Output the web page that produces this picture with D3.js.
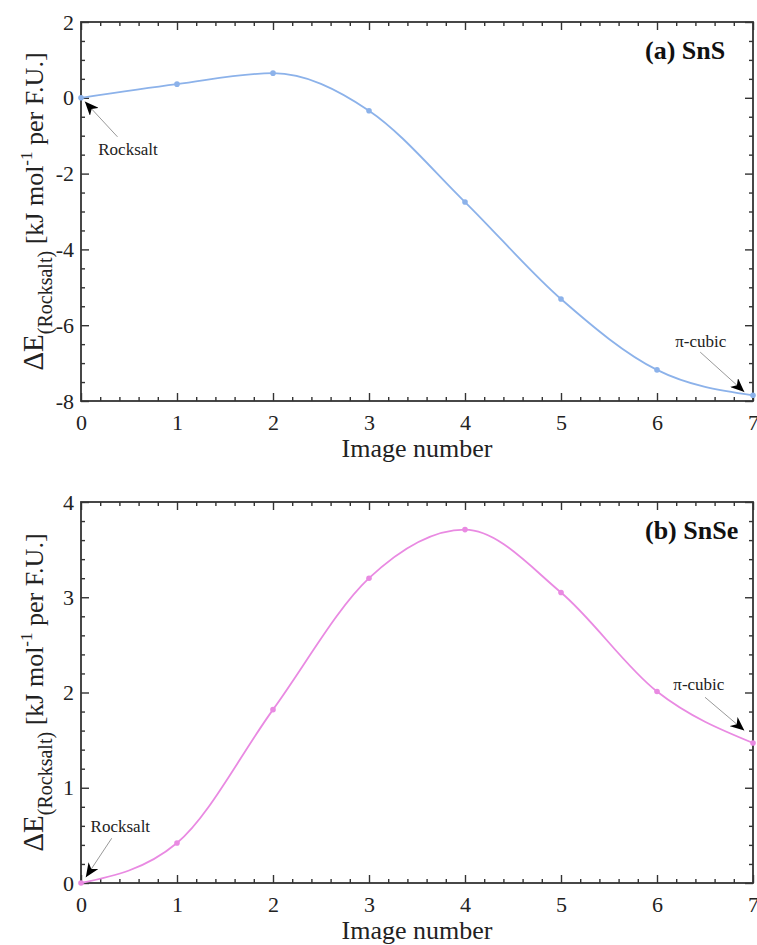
<!DOCTYPE html>
<html>
<head>
<meta charset="utf-8">
<script src="https://cdn.jsdelivr.net/npm/d3@7"></script>
<style>
  body { margin: 0; background: #fff; }
  svg, svg text { font-family: "Liberation Serif", "Times New Roman", serif; }
  .axis text { font-size: 22px; fill: #222; font-family: "Liberation Serif", "Times New Roman", serif; }
  .axis line { stroke: #333; stroke-width: 1.4; }
  .axis .domain { display: none; }
  .frame { fill: none; stroke: #333; stroke-width: 1.8; }
  .axis-title { font-size: 26px; fill: #222; }
  .panel-label { font-size: 26px; font-weight: bold; fill: #111; font-family: "Liberation Serif", "Times New Roman", serif; }
  .note { font-size: 17px; fill: #222; }
  .note-arrow { stroke: #999; stroke-width: 1; }
</style>
</head>
<body>
<svg id="chart" width="757" height="945"></svg>
<script>
// Image index along the transition path
const images = [0, 1, 2, 3, 4, 5, 6, 7];

// Relative energies (kJ/mol per F.U.)
const snsEnergy = [0, 0.36, 0.65, -0.34, -2.75, -5.31, -7.18, -7.85];
const snseEnergy = [0, 0.42, 1.82, 3.20, 3.71, 3.05, 2.01, 1.47];

// Tick labels
const xTicks = [0, 1, 2, 3, 4, 5, 6, 7];
const snsYTicks = [-8, -6, -4, -2, 0, 2];
const snseYTicks = [0, 1, 2, 3, 4];

class PathChart {

  constructor(_config, _data) {
    this.config = {
      parent: _config.parent,
      left: _config.left,
      top: _config.top,
      width: 672,
      height: _config.height,
      yDomain: _config.yDomain,
      yTicks: _config.yTicks,
      yMinorStep: _config.yMinorStep,
      color: _config.color,
      label: _config.label,
      notes: _config.notes
    };
    this.data = _data;
    this.initVis();
  }

  initVis() {
    let vis = this;
    const c = vis.config;
    const plain = d => String(d);

    vis.g = c.parent.append('g')
      .attr('transform', `translate(${c.left},${c.top})`);

    vis.xScale = d3.scaleLinear().domain([0, 7]).range([0, c.width]);
    vis.yScale = d3.scaleLinear().domain(c.yDomain).range([c.height, 0]);

    const xMinor = d3.range(0, 7.001, 0.2).filter(v => Math.abs(v - Math.round(v)) > 1e-6);
    const yMinor = d3.range(c.yDomain[0], c.yDomain[1] + 1e-6, c.yMinorStep)
      .filter(v => !c.yTicks.some(t => Math.abs(t - v) < 1e-6));

    // Bottom and left axes with labels, ticks pointing inward
    vis.g.append('g').attr('class', 'axis')
      .attr('transform', `translate(0,${c.height})`)
      .call(d3.axisBottom(vis.xScale).tickValues(xTicks).tickSize(-8).tickPadding(13).tickFormat(plain));
    vis.g.append('g').attr('class', 'axis')
      .attr('transform', `translate(0,${c.height})`)
      .call(d3.axisBottom(vis.xScale).tickValues(xMinor).tickSize(-4).tickFormat(''));
    vis.g.append('g').attr('class', 'axis')
      .call(d3.axisLeft(vis.yScale).tickValues(c.yTicks).tickSize(-8).tickPadding(7).tickFormat(plain));
    vis.g.append('g').attr('class', 'axis')
      .call(d3.axisLeft(vis.yScale).tickValues(yMinor).tickSize(-4).tickFormat(''));

    // Mirror ticks on top and right
    vis.g.append('g').attr('class', 'axis')
      .call(d3.axisTop(vis.xScale).tickValues(xTicks).tickSize(-8).tickFormat(''));
    vis.g.append('g').attr('class', 'axis')
      .call(d3.axisTop(vis.xScale).tickValues(xMinor).tickSize(-4).tickFormat(''));
    vis.g.append('g').attr('class', 'axis')
      .attr('transform', `translate(${c.width},0)`)
      .call(d3.axisRight(vis.yScale).tickValues(c.yTicks).tickSize(-8).tickFormat(''));
    vis.g.append('g').attr('class', 'axis')
      .attr('transform', `translate(${c.width},0)`)
      .call(d3.axisRight(vis.yScale).tickValues(yMinor).tickSize(-4).tickFormat(''));

    vis.g.selectAll('.axis').attr('font-family', null).attr('font-size', null);

    vis.g.append('rect')
      .attr('class', 'frame')
      .attr('width', c.width)
      .attr('height', c.height);

    // x-axis title
    vis.g.append('text')
      .attr('class', 'axis-title')
      .attr('x', c.width / 2)
      .attr('y', c.height + 56)
      .attr('text-anchor', 'middle')
      .text('Image number');

    // y-axis title with sub/superscripts
    const yt = vis.g.append('text')
      .attr('class', 'axis-title')
      .attr('transform', `translate(-38,${c.height / 2}) rotate(-90)`)
      .attr('text-anchor', 'middle');
    yt.append('tspan').style('font-size', '29px').text('\u0394E');
    yt.append('tspan').style('font-size', '20px').attr('dy', 9).text('(Rocksalt)');
    yt.append('tspan').attr('dy', -9).text(' [kJ mol');
    yt.append('tspan').style('font-size', '17px').attr('dy', -11).text('-1');
    yt.append('tspan').attr('dy', 11).text(' per F.U.]');

    // Panel label
    vis.g.append('text')
      .attr('class', 'panel-label')
      .attr('x', c.width - 108)
      .attr('y', 37)
      .text(c.label);

    // Arrowhead marker
    vis.g.append('defs').append('marker')
      .attr('id', 'head-' + c.label.replace(/\W/g, ''))
      .attr('markerUnits', 'userSpaceOnUse')
      .attr('markerWidth', 14)
      .attr('markerHeight', 12)
      .attr('refX', 14)
      .attr('refY', 6)
      .attr('orient', 'auto')
      .append('path')
      .attr('d', 'M0,0 L14,6 L0,12 L4,6 Z')
      .attr('fill', '#000');
  }

  renderVis() {
    let vis = this;
    const c = vis.config;

    const line = d3.line()
      .x(d => vis.xScale(d.x))
      .y(d => vis.yScale(d.y))
      .curve(d3.curveMonotoneX);

    vis.g.append('path')
      .datum(vis.data)
      .attr('fill', 'none')
      .attr('stroke', c.color)
      .attr('stroke-width', 1.8)
      .attr('d', line);

    vis.g.selectAll('.pt')
      .data(vis.data)
      .join('circle')
      .attr('class', 'pt')
      .attr('cx', d => vis.xScale(d.x))
      .attr('cy', d => vis.yScale(d.y))
      .attr('r', 2.8)
      .attr('fill', c.color);

    // Annotations (positions given in data units)
    const markerId = 'head-' + c.label.replace(/\W/g, '');
    c.notes.forEach(n => {
      vis.g.append('line')
        .attr('class', 'note-arrow')
        .attr('x1', vis.xScale(n.from[0]))
        .attr('y1', vis.yScale(n.from[1]))
        .attr('x2', vis.xScale(n.to[0]))
        .attr('y2', vis.yScale(n.to[1]))
        .attr('marker-end', `url(#${markerId})`);
      vis.g.append('text')
        .attr('class', 'note')
        .attr('x', vis.xScale(n.at[0]))
        .attr('y', vis.yScale(n.at[1]))
        .text(n.text);
    });
  }
}

const svg = d3.select('#chart');

const toPoints = ys => images.map((x, i) => ({ x: x, y: ys[i] }));

const snsChart = new PathChart({
  parent: svg,
  left: 81,
  top: 22,
  height: 379,
  yDomain: [-8, 2],
  yTicks: snsYTicks,
  yMinorStep: 0.5,
  color: '#8cb2ea',
  label: '(a) SnS',
  notes: [
    { text: 'Rocksalt', at: [0.18, -1.51], from: [0.38, -1.03], to: [0.04, -0.1] },
    { text: '\u03c0-cubic', at: [6.19, -6.58], from: [6.45, -6.71], to: [6.91, -7.76] }
  ]
}, toPoints(snsEnergy));
snsChart.renderVis();

const snseChart = new PathChart({
  parent: svg,
  left: 81,
  top: 502,
  height: 381,
  yDomain: [0, 4],
  yTicks: snseYTicks,
  yMinorStep: 0.2,
  color: '#e98ae2',
  label: '(b) SnSe',
  notes: [
    { text: 'Rocksalt', at: [0.10, 0.54], from: [0.32, 0.47], to: [0.05, 0.06] },
    { text: '\u03c0-cubic', at: [6.17, 2.03], from: [6.5, 1.95], to: [6.91, 1.6] }
  ]
}, toPoints(snseEnergy));
snseChart.renderVis();
</script>
</body>
</html>
